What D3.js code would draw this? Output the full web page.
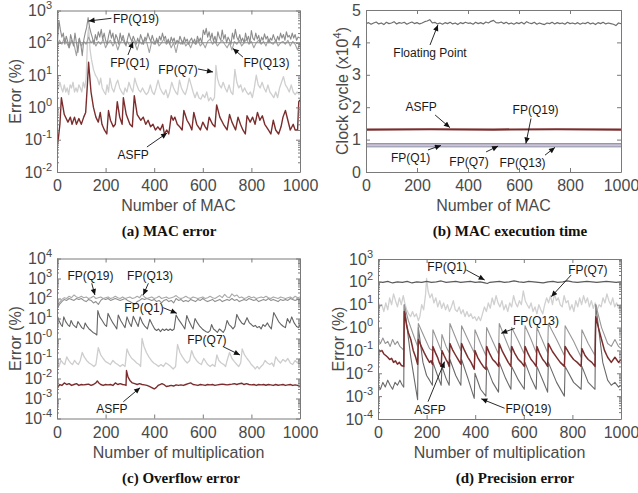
<!DOCTYPE html>
<html>
<head>
<meta charset="utf-8">
<script src="https://cdn.jsdelivr.net/npm/d3@7"></script>
<style>
  body { margin: 0; background: #fff; }
</style>
</head>
<body>
<svg id="fig" width="638" height="493"></svg>
<script>
//----------------------------
// Data
//----------------------------

var xTicks = [0, 200, 400, 600, 800, 1000];

// (a) MAC error
var aQ1 = [[0, 100], [1000, 100]];
var aQ19 = [[0,60],[8,500],[14,250],[20,150],[26,200],[32,90],[38,160],[44,110],[50,70],[56,180],[62,120],[68,80],[74,200],[80,100],[86,50],[92,140],[98,90],[104,40],[110,120],[116,200],[122,300],[128,600],[134,300],[140,200],[146,140],[152,90],[158,180],[164,120],[170,220],[176,150],[182,260],[188,130],[194,200],[200,120],[206,90],[212,160],[218,250],[224,140],[230,200],[236,100],[242,180],[248,140],[254,90],[260,200],[266,120],[272,170],[278,110],[284,80],[290,130],[296,200],[302,140],[308,110],[314,160],[320,120],[326,90],[332,140],[338,100],[344,180],[350,130],[356,90],[362,150],[368,120],[374,200],[380,140],[386,110],[392,170],[398,120],[404,90],[410,140],[416,100],[422,160],[428,120],[434,200],[440,130],[446,160],[452,100],[458,130],[464,90],[470,150],[476,110],[482,140],[488,90],[494,120],[500,100],[506,160],[512,120],[518,90],[524,150],[530,110],[536,130],[542,90],[548,120],[554,140],[560,100],[566,130],[572,90],[578,160],[584,110],[590,140],[596,100],[602,250],[608,180],[614,280],[620,150],[626,220],[632,130],[638,200],[644,110],[650,160],[656,100],[662,220],[668,150],[674,120],[680,250],[686,130],[692,180],[698,100],[704,150],[710,120],[716,90],[722,200],[728,130],[734,260],[740,150],[746,120],[752,180],[758,110],[764,140],[770,100],[776,200],[782,120],[788,160],[794,100],[800,240],[806,140],[812,120],[818,200],[824,130],[830,170],[836,100],[842,150],[848,120],[854,190],[860,130],[866,160],[872,100],[878,140],[884,120],[890,180],[896,130],[902,110],[908,160],[914,120],[920,200],[926,140],[932,180],[938,120],[944,220],[950,150],[956,170],[962,130],[968,200],[974,140],[980,180],[986,120],[992,150],[1000,140]];
var aQ13 = [[0,80],[10,120],[20,90],[30,140],[40,100],[50,70],[60,120],[70,90],[80,40],[90,130],[100,80],[110,110],[120,90],[130,150],[140,100],[150,120],[160,80],[170,110],[180,90],[190,130],[200,70],[210,100],[220,120],[230,80],[240,110],[250,60],[260,100],[270,130],[280,90],[290,110],[300,80],[310,120],[320,100],[330,60],[340,110],[350,90],[360,130],[370,100],[380,50],[390,110],[400,90],[410,120],[420,80],[430,100],[440,130],[450,90],[460,110],[470,70],[480,100],[490,50],[500,110],[510,90],[520,120],[530,80],[540,100],[550,70],[560,110],[570,90],[580,120],[590,80],[600,100],[610,70],[620,110],[630,130],[640,90],[650,110],[660,80],[670,100],[680,120],[690,90],[700,70],[710,100],[720,60],[730,110],[740,90],[750,120],[760,80],[770,100],[780,130],[790,90],[800,110],[810,70],[820,100],[830,120],[840,90],[850,110],[860,80],[870,130],[880,100],[890,90],[900,120],[910,80],[920,100],[930,110],[940,90],[950,120],[960,80],[970,110],[980,90],[990,60],[1000,100]];
var aQ7 = [[0,3],[6,4],[12,6],[18,4],[24,3],[30,5],[36,3],[42,4],[48,2.5],[54,5],[60,4],[66,6],[72,3],[78,4],[84,3],[90,5],[96,4],[102,3],[108,6],[114,4],[120,8],[126,150],[130,300],[136,60],[142,30],[150,15],[158,10],[166,8],[174,5],[180,8],[186,4],[194,3],[200,2.5],[206,5],[212,3],[218,8],[226,4],[234,3],[242,5],[250,7],[258,4],[266,3],[274,2.5],[280,4],[288,3],[296,6],[304,4],[312,3],[320,8],[328,5],[336,3.5],[344,3],[352,4],[360,3],[368,2.5],[376,3],[384,5],[392,3],[400,2.5],[408,4],[416,7],[424,4],[432,3],[440,2.5],[448,3.5],[456,2],[464,3],[472,6],[480,4],[488,3],[496,2.5],[504,7],[512,4],[520,3],[528,2.5],[536,4],[544,8],[552,5],[560,3],[568,2],[576,3],[584,2],[592,1.8],[600,2.5],[608,2],[616,3],[624,1.6],[632,2],[640,1.6],[648,2],[654,20],[660,8],[668,5],[676,4],[684,6],[692,4],[700,3],[708,5],[716,3],[724,2.5],[732,15],[740,6],[748,4],[756,5],[764,3],[772,4],[780,3],[788,2.5],[796,3],[804,2],[812,4],[820,10],[828,5],[836,4],[844,6],[852,4],[860,3],[868,5],[876,3],[884,2.5],[892,2],[900,3],[908,2],[916,4],[924,6],[932,9],[940,5],[948,4],[956,3],[964,5],[972,3],[980,2.5],[988,3],[996,2.5],[1000,3]];
var aAsfp = [[0,0.06],[5,0.1],[12,0.3],[18,2],[30,0.6],[45,0.35],[55,0.5],[62,0.3],[72,0.5],[80,0.3],[90,0.45],[100,0.3],[110,0.5],[118,0.7],[125,5],[130,25],[140,3],[150,1],[160,0.5],[170,0.35],[178,0.7],[185,0.3],[195,0.2],[205,0.15],[212,0.8],[220,0.4],[232,0.25],[240,0.3],[248,1.5],[258,0.5],[268,0.3],[273,2],[285,0.6],[300,0.3],[310,0.25],[318,2.3],[330,0.6],[345,0.4],[355,0.5],[365,0.3],[375,0.4],[385,0.25],[395,0.3],[405,0.2],[415,0.25],[425,0.2],[435,0.3],[442,0.15],[452,0.2],[460,0.15],[470,0.55],[478,0.4],[485,0.5],[495,0.3],[505,0.25],[515,0.2],[522,0.8],[535,0.4],[545,0.3],[555,0.2],[563,0.7],[575,0.3],[590,0.2],[600,0.35],[610,0.25],[618,0.2],[626,0.5],[640,0.3],[650,0.25],[657,1.2],[670,0.5],[685,0.3],[700,0.2],[710,0.6],[720,0.35],[735,0.2],[745,0.5],[755,0.3],[765,0.2],[775,0.15],[782,0.55],[795,0.35],[805,0.5],[815,0.3],[825,0.7],[835,0.4],[845,0.55],[855,0.3],[870,0.2],[880,0.15],[890,0.4],[900,0.2],[912,0.15],[922,0.25],[930,0.5],[940,0.8],[950,0.4],[960,0.2],[972,0.3],[980,0.2],[990,0.2],[995,1.5],[1000,1.7]];

// (b) MAC execution time (x10^4 clock cycles), floating point sampled every 10 MACs
var bFloat = [4.58,4.61,4.56,4.6,4.63,4.57,4.6,4.55,4.62,4.58,4.6,4.64,4.57,4.61,4.59,4.62,4.56,4.6,4.63,4.58,4.61,4.57,4.6,4.64,4.66,4.7,4.6,4.62,4.57,4.6,4.56,4.61,4.58,4.62,4.57,4.6,4.55,4.61,4.58,4.62,4.59,4.6,4.56,4.62,4.58,4.61,4.57,4.63,4.6,4.65,4.68,4.61,4.6,4.63,4.58,4.62,4.57,4.6,4.56,4.61,4.58,4.62,4.57,4.64,4.6,4.58,4.62,4.56,4.6,4.57,4.55,4.6,4.58,4.62,4.57,4.61,4.58,4.6,4.56,4.62,4.58,4.6,4.57,4.61,4.56,4.6,4.58,4.62,4.57,4.6,4.55,4.61,4.58,4.62,4.57,4.6,4.58,4.56,4.52,4.6,4.58];
var bAsfp = [[0,1.31],[250,1.32],[500,1.31],[750,1.32],[1000,1.31]];
var bQ19 = [[0,0.87],[1000,0.87]];
var bQ1 = [[0,0.8],[1000,0.8]];
var bQ7 = [[0,0.79],[1000,0.79]];
var bQ13 = [[0,0.77],[1000,0.77]];

// (c) Overflow error
var cQ13 = [[0,40],[10,60],[20,90],[30,110],[40,100],[50,130],[60,110],[70,150],[80,120],[90,110],[100,130],[110,110],[120,120],[130,100],[140,110],[150,130],[160,100],[170,110],[180,120],[190,100],[200,110],[210,120],[220,100],[230,110],[240,130],[250,110],[260,100],[270,120],[280,100],[290,110],[300,120],[310,100],[320,110],[330,130],[340,110],[350,160],[360,120],[370,100],[380,110],[390,120],[400,100],[410,110],[420,130],[430,100],[440,110],[450,120],[460,100],[470,110],[480,120],[490,140],[500,110],[510,100],[520,110],[530,130],[540,110],[550,100],[560,120],[570,110],[580,100],[590,110],[600,120],[610,100],[620,110],[630,130],[640,110],[650,100],[660,120],[670,140],[680,110],[690,160],[700,120],[710,110],[720,170],[730,130],[740,150],[750,110],[760,120],[770,100],[780,110],[790,130],[800,110],[810,120],[820,100],[830,110],[840,120],[850,110],[860,130],[870,110],[880,100],[890,120],[900,110],[910,100],[920,120],[930,110],[940,100],[950,110],[960,120],[970,100],[980,130],[990,110],[1000,120]];
var cQ19 = [[0,30],[10,50],[20,70],[30,90],[40,80],[50,100],[60,90],[70,80],[80,100],[90,90],[100,100],[110,80],[120,70],[130,90],[140,80],[150,60],[160,70],[170,50],[180,80],[190,100],[200,90],[210,100],[220,80],[230,90],[240,100],[250,90],[260,80],[270,90],[280,100],[290,80],[300,70],[310,60],[320,50],[330,70],[340,80],[350,100],[360,90],[370,100],[380,90],[390,80],[400,90],[410,70],[420,80],[430,60],[440,80],[450,90],[460,70],[470,80],[480,60],[490,100],[500,80],[510,90],[520,70],[530,80],[540,70],[550,90],[560,80],[570,70],[580,90],[590,80],[600,100],[610,80],[620,70],[630,80],[640,90],[650,70],[660,80],[670,90],[680,70],[690,80],[700,90],[710,80],[720,100],[730,80],[740,90],[750,70],[760,80],[770,90],[780,80],[790,100],[800,90],[810,80],[820,90],[830,70],[840,80],[850,90],[860,80],[870,100],[880,80],[890,90],[900,80],[910,70],[920,90],[930,80],[940,90],[950,80],[960,100],[970,90],[980,80],[990,90],[1000,90]];
var cQ1 = [[0,15],[8,8],[16,5],[22,4],[28,12],[36,7],[44,5],[52,4],[58,8],[66,5],[74,4],[80,3.5],[86,7],[94,5],[102,3.5],[110,3],[116,6],[124,4],[132,3],[140,2.5],[148,2],[156,1.8],[164,1.5],[168,25],[176,12],[186,8],[196,5],[204,4],[210,18],[220,10],[230,6],[240,4],[246,3],[252,15],[262,8],[272,5],[280,3.5],[288,12],[298,6],[306,4],[314,13],[324,7],[334,4],[342,12],[352,6],[362,4],[372,3],[382,9],[392,5],[402,3],[410,2.5],[418,3],[426,2.2],[434,3],[442,2.5],[450,3],[458,2.5],[466,3],[474,2.5],[482,3],[490,15],[500,9],[510,6],[520,4],[526,3],[534,14],[544,7],[554,4],[560,3],[568,10],[578,6],[588,4],[598,3],[606,2.5],[614,2.2],[622,2],[630,2.5],[636,5],[644,3],[652,2.5],[660,2],[668,3],[676,2.5],[684,2],[692,3],[700,8],[708,5],[716,4],[724,3],[732,4],[740,16],[750,9],[760,6],[770,5],[782,11],[792,6],[800,5],[808,4],[816,4.5],[824,3.5],[832,4],[840,3],[848,5],[856,4],[866,6],[874,4],[882,3],[892,20],[902,12],[912,7],[922,5],[932,4],[940,3.5],[948,10],[958,6],[966,12],[976,6],[986,4],[994,3.5],[1000,5]];
var cQ7 = [[0,0.05],[8,0.04],[16,0.08],[24,0.06],[32,0.05],[40,0.12],[48,0.08],[56,0.06],[64,0.05],[72,0.08],[80,0.06],[88,0.05],[96,0.08],[104,0.2],[112,0.12],[122,0.08],[132,0.06],[142,0.05],[152,0.04],[160,0.05],[170,0.35],[180,0.15],[190,0.1],[200,0.07],[210,0.06],[220,0.05],[230,0.08],[240,0.06],[250,0.05],[260,0.04],[270,0.05],[280,0.04],[288,0.3],[298,0.15],[308,0.1],[318,0.08],[328,0.06],[338,0.05],[344,0.04],[350,1.0],[358,0.4],[368,0.2],[378,0.12],[388,0.08],[398,0.06],[408,0.05],[418,0.04],[428,0.05],[438,0.04],[448,0.06],[458,0.05],[468,0.04],[478,0.03],[488,0.04],[496,0.5],[506,0.2],[516,0.12],[526,0.08],[536,0.06],[546,0.08],[554,0.25],[564,0.12],[574,0.08],[584,0.06],[594,0.05],[604,0.1],[612,0.07],[620,0.05],[630,0.04],[640,0.05],[650,0.04],[658,0.15],[666,0.08],[676,0.06],[686,0.05],[694,0.04],[700,0.08],[710,0.2],[720,0.1],[730,0.07],[740,0.05],[748,0.04],[756,0.06],[762,0.3],[772,0.15],[782,0.1],[792,0.07],[800,0.05],[808,0.04],[816,0.03],[824,0.04],[832,0.03],[840,0.04],[848,0.05],[856,0.08],[866,0.06],[876,0.05],[884,0.06],[892,0.04],[900,0.12],[910,0.08],[920,0.06],[930,0.09],[940,0.07],[950,0.1],[960,0.06],[970,0.05],[980,0.08],[990,0.06],[1000,0.1]];
var cAsfp = [[0,0.003],[5,0.004],[12,0.005],[20,0.0045],[30,0.006],[40,0.005],[50,0.0055],[60,0.0045],[70,0.005],[80,0.0055],[90,0.0045],[100,0.005],[110,0.0048],[120,0.005],[130,0.0052],[140,0.0045],[150,0.005],[160,0.006],[166,0.0075],[172,0.006],[180,0.005],[190,0.0045],[200,0.005],[210,0.0048],[220,0.005],[230,0.0045],[240,0.006],[250,0.005],[260,0.0055],[270,0.005],[280,0.0048],[284,0.0045],[286,0.025],[292,0.012],[300,0.008],[310,0.006],[320,0.0055],[330,0.005],[340,0.0055],[350,0.005],[360,0.0048],[370,0.0045],[380,0.004],[390,0.0035],[400,0.003],[408,0.0035],[416,0.0045],[424,0.005],[432,0.0055],[440,0.005],[450,0.004],[460,0.0042],[470,0.0045],[480,0.0042],[490,0.0048],[500,0.0045],[510,0.0048],[520,0.0045],[530,0.005],[540,0.0055],[550,0.006],[560,0.005],[570,0.0048],[580,0.0045],[590,0.005],[600,0.0048],[610,0.0045],[620,0.005],[630,0.0048],[640,0.005],[650,0.0045],[660,0.0048],[670,0.005],[680,0.0052],[690,0.005],[700,0.0048],[710,0.005],[720,0.0052],[730,0.0055],[740,0.005],[750,0.0055],[760,0.0058],[770,0.005],[780,0.0055],[790,0.005],[800,0.0048],[810,0.005],[820,0.0045],[830,0.005],[840,0.0048],[850,0.005],[860,0.0046],[870,0.005],[880,0.0048],[890,0.0045],[900,0.005],[910,0.0046],[920,0.0048],[930,0.005],[940,0.0045],[950,0.0048],[960,0.005],[970,0.0045],[980,0.0048],[990,0.0045],[1000,0.004]];

// (d) Precision error
var dQ1 = [[0,100],[20,95],[40,105],[60,90],[80,100],[100,95],[120,105],[140,90],[160,100],[180,95],[200,105],[220,95],[240,100],[260,110],[280,95],[300,100],[320,105],[340,95],[360,100],[380,105],[400,95],[420,100],[440,90],[450,85],[460,95],[480,100],[500,105],[520,95],[540,100],[560,110],[580,100],[600,95],[620,105],[640,100],[660,95],[680,90],[700,100],[720,105],[740,95],[760,100],[780,110],[800,100],[820,95],[840,100],[860,105],[880,100],[900,95],[920,100],[940,105],[960,100],[980,95],[1000,100]];
var dQ7 = [[0,15],[8,8],[16,10],[24,5],[32,12],[40,6],[48,20],[56,10],[64,30],[72,15],[80,8],[88,20],[96,10],[104,25],[110,12],[118,6],[126,4],[134,3],[142,5],[150,3],[158,4],[166,2],[172,3],[180,10],[188,6],[196,30],[200,140],[206,40],[214,20],[222,30],[230,12],[238,20],[246,8],[254,15],[262,7],[270,12],[278,6],[286,10],[294,5],[302,8],[310,15],[318,6],[326,5],[334,8],[342,4],[350,6],[358,3],[366,5],[374,3],[382,4],[390,2.5],[398,3],[406,2],[414,3],[422,2],[430,4],[438,8],[446,5],[454,12],[462,7],[470,20],[478,10],[486,25],[494,12],[502,8],[510,15],[518,6],[526,10],[534,5],[542,12],[550,8],[558,25],[566,12],[574,8],[582,15],[590,10],[598,40],[606,15],[614,10],[622,7],[630,12],[638,5],[646,8],[654,4],[662,10],[670,6],[678,4],[686,10],[694,20],[702,12],[710,25],[718,10],[726,30],[734,15],[742,20],[750,10],[758,8],[766,25],[774,12],[782,15],[790,6],[798,10],[806,5],[814,15],[822,8],[830,20],[838,10],[846,25],[854,12],[862,20],[870,8],[878,15],[886,7],[894,12],[902,6],[910,10],[918,8],[926,20],[934,12],[942,30],[950,15],[958,10],[966,20],[974,8],[982,12],[990,7],[1000,10]];
var dQ13 = [[0,0.3],[10,0.2],[20,0.35],[30,0.2],[40,0.25],[50,0.15],[60,0.3],[70,0.18],[80,0.25],[90,0.15],[100,0.12],[106,0.1],[108,10],[125,2],[145,0.5],[163,0.15],[166,1.5],[190,0.4],[212,0.12],[224,0.1],[226,0.8],[245,0.25],[260,0.1],[263,0.5],[280,0.15],[293,0.08],[296,1.5],[320,0.35],[341,0.1],[344,1.2],[370,0.3],[396,0.08],[399,0.8],[422,0.2],[444,0.06],[447,1.0],[472,0.25],[496,0.07],[499,1.5],[525,0.3],[547,0.08],[550,1.0],[578,0.25],[602,0.07],[605,1.2],[630,0.3],[651,0.08],[654,1.0],[678,0.25],[698,0.08],[701,1.5],[735,0.3],[767,0.06],[770,1.2],[805,0.25],[836,0.05],[839,0.8],[865,0.2],[893,0.06],[896,10],[920,1],[945,0.2],[960,0.15],[975,0.3],[990,0.15],[1000,0.12]];
var dAsfp = [[0,0.12],[8,0.09],[16,0.1],[24,0.07],[32,0.06],[40,0.05],[48,0.04],[56,0.045],[64,0.03],[72,0.035],[80,0.025],[88,0.03],[96,0.022],[106,0.02],[108,5],[118,1.2],[125,0.6],[135,0.3],[145,0.1],[155,0.05],[163,0.025],[166,0.3],[178,0.15],[190,0.08],[200,0.05],[212,0.03],[218,0.035],[224,0.025],[226,0.15],[236,0.08],[245,0.05],[252,0.03],[260,0.02],[263,0.1],[272,0.06],[280,0.04],[287,0.03],[293,0.02],[296,0.2],[308,0.1],[320,0.06],[330,0.04],[341,0.025],[344,0.2],[356,0.1],[370,0.05],[383,0.03],[396,0.015],[399,0.1],[410,0.05],[422,0.03],[433,0.02],[444,0.015],[447,0.15],[460,0.07],[472,0.04],[484,0.03],[496,0.02],[499,0.2],[512,0.09],[525,0.05],[536,0.03],[547,0.02],[550,0.15],[564,0.07],[578,0.04],[590,0.03],[602,0.02],[605,0.15],[618,0.07],[630,0.04],[640,0.03],[651,0.02],[654,0.15],[666,0.07],[678,0.04],[688,0.03],[698,0.02],[701,0.2],[718,0.09],[735,0.05],[750,0.03],[767,0.02],[770,0.15],[788,0.07],[805,0.04],[820,0.03],[836,0.02],[839,0.12],[852,0.06],[865,0.04],[880,0.03],[893,0.02],[896,3],[908,0.9],[920,0.3],[932,0.1],[945,0.05],[960,0.03],[975,0.05],[990,0.03],[1000,0.04]];
var dQ19 = [[0,0.003],[10,0.002],[20,0.004],[30,0.0025],[40,0.005],[50,0.003],[60,0.002],[70,0.004],[80,0.003],[90,0.005],[100,0.003],[106,0.0025],[108,10],[135,0.05],[163,0.0007],[166,1],[185,0.03],[200,0.008],[212,0.005],[224,0.003],[226,0.03],[245,0.008],[260,0.003],[263,0.02],[280,0.006],[293,0.003],[296,0.04],[320,0.008],[341,0.003],[344,0.04],[370,0.006],[396,0.0008],[399,0.01],[422,0.002],[444,0.001],[447,0.02],[472,0.004],[496,0.0015],[499,0.03],[525,0.006],[547,0.002],[550,0.02],[578,0.005],[602,0.002],[605,0.03],[630,0.006],[651,0.002],[654,0.02],[678,0.005],[698,0.0015],[701,0.03],[735,0.004],[767,0.001],[770,0.02],[805,0.004],[836,0.002],[839,0.02],[865,0.004],[893,0.002],[896,10],[925,0.03],[945,0.005],[960,0.003],[975,0.004],[990,0.0025],[1000,0.003]];

//----------------------------
// Setup
//----------------------------

var svg = d3.select("#fig");
var SANS = "'Liberation Sans', Arial, sans-serif";
var frameColor = "#7a7a7a";
var textColor = "#4a4a4a";
var red = "#7b2d2d";

svg.append("defs").append("marker")
    .attr("id", "ah")
    .attr("viewBox", "0 0 10 10")
    .attr("refX", 10).attr("refY", 5)
    .attr("markerUnits", "userSpaceOnUse")
    .attr("markerWidth", 7).attr("markerHeight", 6)
    .attr("orient", "auto")
    .append("path").attr("d", "M0,0.5L10,5L0,9.5z").attr("fill", "#111");

function styleAxis(g) {
    g.attr("font-family", SANS).attr("font-size", 16);
    g.select(".domain").attr("stroke", frameColor);
    g.selectAll(".tick line").attr("stroke", frameColor);
    g.selectAll(".tick text").attr("fill", textColor);
}

function supLabels(g, labels) {
    g.selectAll(".tick text").each(function (d, i) {
        var t = d3.select(this);
        t.text(null);
        t.append("tspan").text("10");
        t.append("tspan").attr("dy", -7).attr("font-size", 11).text(labels[i]);
    });
}

//----------------------------
// Panel
//----------------------------

function drawPanel(p) {
    var g = svg.append("g");
    var x = d3.scaleLinear().domain([0, 1000]).range([p.l, p.r]);
    var y = (p.log ? d3.scaleLog() : d3.scaleLinear()).domain(p.yDom).range([p.b, p.t]);

    svg.select("defs").append("clipPath").attr("id", "clip" + p.id)
        .append("rect").attr("x", p.l).attr("y", p.t)
        .attr("width", p.r - p.l).attr("height", p.b - p.t);

    var line = d3.line().x(d => x(d[0])).y(d => y(d[1]));
    var lines = g.append("g").attr("clip-path", "url(#clip" + p.id + ")");
    p.series.forEach(function (s) {
        lines.append("path")
            .attr("d", line(s.data))
            .attr("fill", "none")
            .attr("stroke", s.color)
            .attr("stroke-width", s.w || 1.1)
            .attr("stroke-linejoin", "round");
    });

    // axes (box with inward ticks like matlab)
    g.append("g").attr("transform", "translate(0," + p.b + ")")
        .call(d3.axisBottom(x).tickValues(xTicks).tickSize(-4).tickSizeOuter(0).tickPadding(8)
            .tickFormat(d3.format("d")))
        .call(styleAxis);
    g.append("g").attr("transform", "translate(0," + p.t + ")")
        .call(d3.axisTop(x).tickValues(xTicks).tickSize(-4).tickSizeOuter(0).tickFormat(""))
        .call(styleAxis);

    var yl = g.append("g").attr("transform", "translate(" + p.l + ",0)")
        .call(d3.axisLeft(y).tickValues(p.yTicks).tickSize(-4).tickSizeOuter(0).tickPadding(5)
            .tickFormat(p.log ? "" : d3.format("d")))
        .call(styleAxis);
    if (p.log) supLabels(yl, p.yLabels);
    g.append("g").attr("transform", "translate(" + p.r + ",0)")
        .call(d3.axisRight(y).tickValues(p.yTicks).tickSize(-4).tickSizeOuter(0).tickFormat(""))
        .call(styleAxis);

    if (p.log) {
        var minor = y.ticks().filter(v => p.yTicks.indexOf(v) < 0);
        g.append("g").attr("transform", "translate(" + p.l + ",0)")
            .call(d3.axisLeft(y).tickValues(minor).tickSize(-2).tickFormat(""))
            .call(styleAxis).select(".domain").remove();
        g.append("g").attr("transform", "translate(" + p.r + ",0)")
            .call(d3.axisRight(y).tickValues(minor).tickSize(-2).tickFormat(""))
            .call(styleAxis).select(".domain").remove();
    }

    // axis titles
    g.append("text")
        .attr("x", (p.l + p.r) / 2).attr("y", p.b + 39)
        .attr("text-anchor", "middle")
        .attr("font-family", SANS).attr("font-size", 16).attr("fill", textColor)
        .text(p.xTitle);

    var yt = g.append("text")
        .attr("transform", "translate(" + p.yTitleX + "," + (p.t + p.b) / 2 + ") rotate(-90)")
        .attr("dy", "0.35em")
        .attr("text-anchor", "middle")
        .attr("font-family", SANS).attr("font-size", 16).attr("fill", textColor);
    p.yTitle.forEach(function (part) {
        var ts = yt.append("tspan").text(part.t);
        if (part.sup) ts.attr("dy", -7).attr("font-size", 11);
        if (part.down) ts.attr("dy", 7);
    });

    // caption
    g.append("text")
        .attr("x", p.capX).attr("y", p.b + 64)
        .attr("text-anchor", "middle")
        .attr("font-family", "'Liberation Serif', 'Times New Roman', serif")
        .attr("font-weight", "bold").attr("font-size", 15).attr("fill", "#111")
        .text(p.caption);

    // annotations
    p.notes.forEach(function (n) {
        g.append("text")
            .attr("x", x(n.x)).attr("y", y(n.y))
            .attr("dy", "0.35em")
            .attr("text-anchor", n.a || "middle")
            .attr("font-family", SANS).attr("font-size", 12).attr("fill", "#1a1a1a")
            .text(n.t);
        if (n.ar) {
            g.append("line")
                .attr("x1", x(n.ar[0])).attr("y1", y(n.ar[1]))
                .attr("x2", x(n.ar[2])).attr("y2", y(n.ar[3]))
                .attr("stroke", "#111").attr("stroke-width", 0.9)
                .attr("marker-end", "url(#ah)");
        }
    });
}

//----------------------------
// Draw the four panels
//----------------------------

drawPanel({
    id: "a", l: 57, r: 300, t: 10.5, b: 172, log: true,
    yDom: [0.01, 1000], yTicks: [0.01, 0.1, 1, 10, 100, 1000],
    yLabels: ["-2", "-1", "0", "1", "2", "3"],
    series: [
        { data: aQ7, color: "#cfcfcf", w: 1.3 },
        { data: aAsfp, color: red, w: 1.4 },
        { data: aQ13, color: "#a2a2a2" },
        { data: aQ1, color: "#8a8a8a" },
        { data: aQ19, color: "#8c8c8c" }
    ],
    xTitle: "Number of MAC",
    yTitle: [{ t: "Error (%)" }], yTitleX: 15,
    caption: "(a) MAC error", capX: 169,
    notes: [
        { t: "FP(Q19)", x: 230, y: 573, a: "start", ar: [224, 573, 130, 473] },
        { t: "FP(Q1)", x: 300, y: 23.7, ar: [292, 41.9, 313, 106] },
        { t: "FP(Q7)", x: 498, y: 14.4, ar: [580, 15.5, 642, 12.5] },
        { t: "FP(Q13)", x: 862, y: 23.7, ar: [765, 36.3, 724, 66.7] },
        { t: "ASFP", x: 313, y: 0.0336, ar: [370, 0.0594, 453, 0.161] }
    ]
});

drawPanel({
    id: "b", l: 366, r: 621, t: 10, b: 172, log: false,
    yDom: [0, 5], yTicks: [0, 1, 2, 3, 4, 5],
    series: [
        { data: bFloat.map((v, i) => [i * 1000 / (bFloat.length - 1), v]), color: "#6e6e6e", w: 1.2 },
        { data: bQ13, color: "#b4b4b4", w: 1.1 },
        { data: bQ7, color: "#c8c8d4", w: 1.1 },
        { data: bQ1, color: "#9c9cb4", w: 1.1 },
        { data: bQ19, color: "#7d6f96", w: 1.2 },
        { data: bAsfp, color: red, w: 2.2 }
    ],
    xTitle: "Number of MAC",
    yTitle: [{ t: "Clock cycle (x10" }, { t: "4", sup: true }, { t: ")", down: true }], yTitleX: 342,
    caption: "(b) MAC execution time", capX: 510,
    notes: [
        { t: "Floating Point", x: 251, y: 3.67, ar: [251, 3.92, 282, 4.54] },
        { t: "ASFP", x: 216, y: 2.0, ar: [271, 1.76, 329, 1.37] },
        { t: "FP(Q19)", x: 665, y: 1.91, ar: [647, 1.65, 627, 0.88] },
        { t: "FP(Q1)", x: 175, y: 0.43, ar: [243, 0.68, 294, 0.82] },
        { t: "FP(Q7)", x: 404, y: 0.31, ar: [471, 0.62, 518, 0.8] },
        { t: "FP(Q13)", x: 614, y: 0.28, ar: [702, 0.52, 741, 0.76] }
    ]
});

drawPanel({
    id: "c", l: 57, r: 300, t: 258.5, b: 418.5, log: true,
    yDom: [1e-4, 1e4], yTicks: [1e-4, 1e-3, 1e-2, 1e-1, 1, 10, 100, 1000, 1e4],
    yLabels: ["-4", "-3", "-2", "-1", "-0", "1", "2", "3", "4"],
    series: [
        { data: cQ7, color: "#cdcdcd", w: 1.3 },
        { data: cQ1, color: "#646464" },
        { data: cAsfp, color: red, w: 1.4 },
        { data: cQ19, color: "#8e8e8e" },
        { data: cQ13, color: "#a9a9a9" }
    ],
    xTitle: "Number of multiplication",
    yTitle: [{ t: "Error (%)" }], yTitleX: 15,
    caption: "(c) Overflow error", capX: 181,
    notes: [
        { t: "FP(Q19)", x: 138, y: 1380, ar: [143, 575, 156, 150] },
        { t: "FP(Q13)", x: 383, y: 1380, ar: [376, 575, 355, 150] },
        { t: "FP(Q1)", x: 358, y: 34.7, ar: [437, 34.7, 493, 18.2] },
        { t: "FP(Q7)", x: 617, y: 0.84, ar: [684, 0.389, 753, 0.15] },
        { t: "ASFP", x: 226, y: 0.0003, ar: [273, 0.00069, 342, 0.00347] }
    ]
});

drawPanel({
    id: "d", l: 378, r: 621, t: 259, b: 419, log: true,
    yDom: [1e-4, 1000], yTicks: [1e-4, 1e-3, 1e-2, 1e-1, 1, 10, 100, 1000],
    yLabels: ["-4", "-3", "-2", "-1", "0", "1", "2", "3"],
    series: [
        { data: dQ7, color: "#d0d0d0", w: 1.3 },
        { data: dQ1, color: "#5a5a5a" },
        { data: dQ19, color: "#6a6a6a" },
        { data: dQ13, color: "#969696" },
        { data: dAsfp, color: red, w: 1.5 }
    ],
    xTitle: "Number of multiplication",
    yTitle: [{ t: "Error (%)" }], yTitleX: 338,
    caption: "(d) Precision error", capX: 515,
    notes: [
        { t: "FP(Q1)", x: 284, y: 460, ar: [363, 331, 439, 120] },
        { t: "FP(Q7)", x: 864, y: 331, ar: [795, 200, 713, 22.4] },
        { t: "FP(Q13)", x: 650, y: 1.94, ar: [563, 0.93, 507, 0.56] },
        { t: "ASFP", x: 214, y: 0.000248, ar: [206, 0.000575, 274, 0.0324] },
        { t: "FP(Q19)", x: 619, y: 0.000275, ar: [521, 0.000295, 425, 0.00076] }
    ]
});
</script>
</body>
</html>
